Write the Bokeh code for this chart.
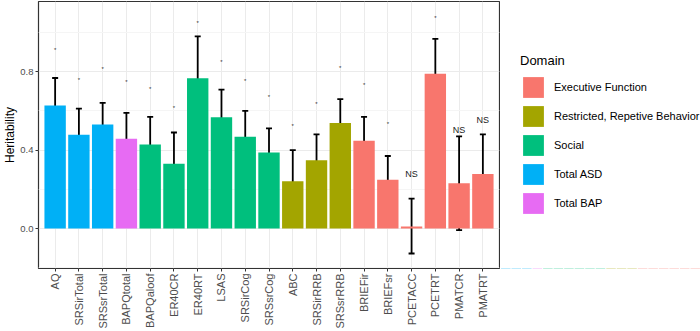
import math
from bokeh.plotting import figure
from bokeh.layouts import row
from bokeh.models import (ColumnDataSource, FactorRange, Range1d, FixedTicker, Whisker,
                          TeeHead, Legend, LegendItem, PrintfTickFormatter)
from bokeh.core.properties import value
from bokeh.embed import file_html
from bokeh.resources import INLINE

# ---------------- data ----------------
measures = ["AQ", "SRSirTotal", "SRSsrTotal", "BAPQtotal", "BAPQaloof", "ER40CR", "ER40RT",
            "LSAS", "SRSirCog", "SRSsrCog", "ABC", "SRSirRRB", "SRSsrRRB", "BRIEFir",
            "BRIEFsr", "PCETACC", "PCETRT", "PMATCR", "PMATRT"]
domains = ["Total ASD", "Total ASD", "Total ASD", "Total BAP", "Social", "Social", "Social",
           "Social", "Social", "Social", "Restricted, Repetive Behavior",
           "Restricted, Repetive Behavior", "Restricted, Repetive Behavior",
           "Executive Function", "Executive Function", "Executive Function",
           "Executive Function", "Executive Function", "Executive Function"]
heritability = [0.628, 0.478, 0.531, 0.458, 0.429, 0.331, 0.767, 0.568, 0.468, 0.388,
                0.241, 0.348, 0.538, 0.448, 0.249, 0.010, 0.789, 0.231, 0.278]
lower = [0.489, 0.349, 0.421, 0.331, 0.290, 0.170, 0.560, 0.429, 0.341, 0.270,
         0.081, 0.222, 0.421, 0.331, 0.132, -0.127, 0.609, -0.008, 0.081]
upper = [0.768, 0.612, 0.641, 0.590, 0.570, 0.490, 0.980, 0.709, 0.600, 0.511,
         0.400, 0.480, 0.660, 0.570, 0.370, 0.153, 0.967, 0.470, 0.480]
sig_label = ["*", "*", "*", "*", "*", "*", "*", "*", "*", "*", "*", "*", "*", "*", "*",
             "NS", "*", "NS", "NS"]
label_y = [0.909, 0.760, 0.812, 0.745, 0.712, 0.614, 1.050, 0.852, 0.753, 0.670,
           0.524, 0.633, 0.821, 0.731, 0.534, 0.280, 1.072, 0.504, 0.553]
domain_order = ["Executive Function", "Restricted, Repetive Behavior", "Social",
                "Total ASD", "Total BAP"]
yticks = [0.0, 0.4, 0.8]
yminor = [-0.2, 0.2, 0.6, 1.0]

palette = {"Executive Function": "#F8766D", "Restricted, Repetive Behavior": "#A3A500",
           "Social": "#00BF7D", "Total ASD": "#00B0F6", "Total BAP": "#E76BF3"}
colors = [palette[d] for d in domains]

src = ColumnDataSource(dict(x=measures, h=heritability, lo=lower, up=upper,
                            color=colors, domain=domains))
star_idx = [i for i, s in enumerate(sig_label) if s == "*"]
ns_idx = [i for i, s in enumerate(sig_label) if s == "NS"]
star_src = ColumnDataSource(dict(x=[measures[i] for i in star_idx],
                                 y=[label_y[i] for i in star_idx],
                                 t=[sig_label[i] for i in star_idx]))
ns_src = ColumnDataSource(dict(x=[measures[i] for i in ns_idx],
                               y=[label_y[i] for i in ns_idx],
                               t=[sig_label[i] for i in ns_idx]))

FONT = "Liberation Sans"

p = figure(width=500, height=331, output_backend="svg", toolbar_location=None,
           x_range=FactorRange(factors=measures, range_padding=0.2,
                               range_padding_units="absolute"),
           y_range=Range1d(-0.2036, 1.158),
           min_border_left=38, min_border_right=1, min_border_top=1, min_border_bottom=0)

p.background_fill_color = "white"
p.border_fill_color = "white"
p.outline_line_color = "#333333"
p.outline_line_width = 1.2

r = p.vbar(x="x", top="h", bottom=0, width=0.9, source=src, fill_color="color",
           line_color=None)

whisk = Whisker(base="x", upper="up", lower="lo", source=src, line_color="black",
                line_width=1.8,
                upper_head=TeeHead(size=6, line_width=1.8, line_color="black"),
                lower_head=TeeHead(size=6, line_width=1.8, line_color="black"))
p.add_layout(whisk)

p.text(x="x", y="y", text="t", source=star_src, text_font=value(FONT),
       text_font_size="6px", text_align="center", text_baseline="middle",
       text_color="#333333")
p.text(x="x", y="y", text="t", source=ns_src, text_font=value(FONT),
       text_font_size="9px", text_align="center", text_baseline="middle",
       text_color="#1A1A1A")

# axes
p.yaxis.ticker = FixedTicker(ticks=yticks, minor_ticks=yminor)
p.yaxis.formatter = PrintfTickFormatter(format="%.1f")
p.yaxis.axis_label = "Heritability"
p.yaxis.axis_label_text_font = FONT
p.yaxis.axis_label_text_font_style = "normal"
p.yaxis.axis_label_text_font_size = "12px"
p.yaxis.axis_label_text_color = "black"
p.yaxis.axis_label_standoff = 0
p.yaxis.major_label_text_font = FONT
p.yaxis.major_label_text_font_size = "9.5px"
p.yaxis.major_label_text_color = "#4D4D4D"
p.yaxis.major_label_standoff = 1
p.yaxis.minor_tick_line_color = None

p.xaxis.major_label_orientation = math.pi / 2
p.xaxis.major_label_text_font = FONT
p.xaxis.major_label_text_font_size = "11px"
p.xaxis.major_label_text_color = "#4D4D4D"
p.xaxis.major_label_standoff = 2

for ax in (p.xaxis, p.yaxis):
    ax.axis_line_color = None
    ax.major_tick_line_color = "#333333"
    ax.major_tick_out = 3
    ax.major_tick_in = 0

p.xgrid.grid_line_color = "#EBEBEB"
p.ygrid.grid_line_color = "#EBEBEB"
p.ygrid.minor_grid_line_color = "#F5F5F5"

# legend panel (separate figure so that the legend is not clipped);
# its bars have zero height, only the legend keys show
lg = figure(width=200, height=331, output_backend="svg", toolbar_location=None,
            x_range=FactorRange(factors=measures), y_range=Range1d(5, 6),
            min_border_left=0, min_border_right=0, min_border_top=0, min_border_bottom=0)
lg.axis.visible = False
lg.grid.visible = False
lg.outline_line_color = None
lg.background_fill_color = None
lg.border_fill_color = None

rl = lg.vbar(x="x", top="h", bottom="h", width=0.9, source=src, fill_color="color",
             line_color=None)
items = [LegendItem(label=d, renderers=[rl], index=domains.index(d)) for d in domain_order]

legend = Legend(items=items, location=(20, 52), title="Domain",
                title_text_font=FONT, title_text_font_size="13px",
                title_text_font_style="normal", title_text_color="black",
                title_standoff=6,
                label_text_font=FONT, label_text_font_size="11px",
                label_text_color="black", label_standoff=8,
                glyph_width=26, glyph_height=26, spacing=3, padding=0, margin=0,
                border_line_color=None, background_fill_alpha=0)
lg.add_layout(legend)

layout = row(p, lg)
open("out.html", "w").write(file_html(layout, INLINE))
